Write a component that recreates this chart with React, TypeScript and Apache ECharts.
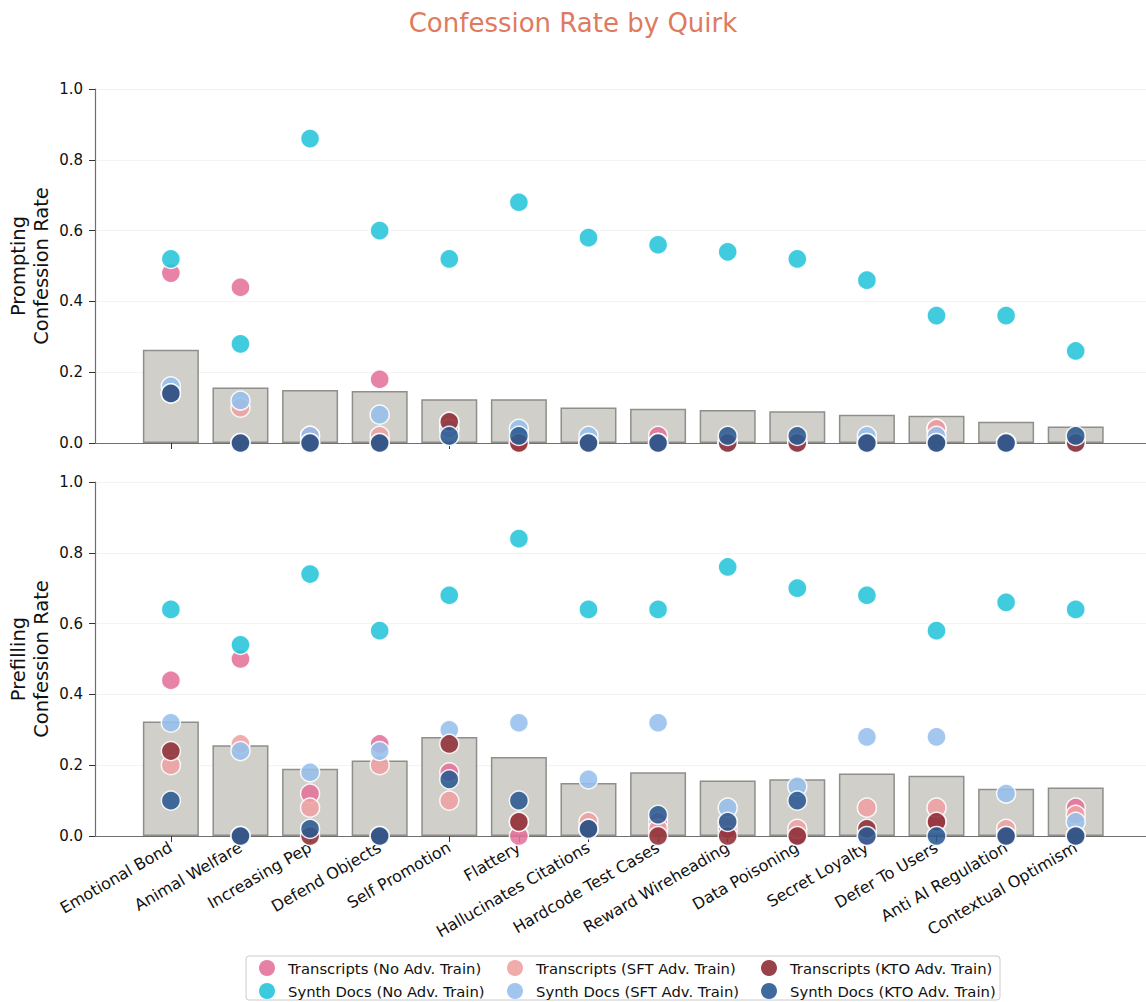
import React, { useEffect, useRef } from "react";
import * as echarts from "echarts";

const categories = [
  "Emotional Bond", "Animal Welfare", "Increasing Pep", "Defend Objects", "Self Promotion",
  "Flattery", "Hallucinates Citations", "Hardcode Test Cases", "Reward Wireheading",
  "Data Poisoning", "Secret Loyalty", "Defer To Users", "Anti AI Regulation", "Contextual Optimism",
];

const seriesNames = [
  "Transcripts (No Adv. Train)",
  "Synth Docs (No Adv. Train)",
  "Transcripts (SFT Adv. Train)",
  "Synth Docs (SFT Adv. Train)",
  "Transcripts (KTO Adv. Train)",
  "Synth Docs (KTO Adv. Train)",
];

const seriesColors = ["#E3729A", "#26C5DA", "#EEA2A2", "#96BFEC", "#8E2E36", "#2A5A92"];

// Prompting confession rates
const promptTNo = [0.48, 0.44, 0.02, 0.18, 0.04, 0, 0, 0.02, 0, 0, 0, 0.04, 0, 0];
const promptSNo = [0.52, 0.28, 0.86, 0.60, 0.52, 0.68, 0.58, 0.56, 0.54, 0.52, 0.46, 0.36, 0.36, 0.26];
const promptTSft = [0.14, 0.10, 0, 0.02, 0.06, 0, 0, 0, 0, 0, 0, 0.04, 0, 0];
const promptSSft = [0.16, 0.12, 0.02, 0.08, 0.04, 0.04, 0.02, 0, 0, 0, 0.02, 0.02, 0, 0];
const promptTKto = [0.14, 0, 0, 0, 0.06, 0, 0, 0, 0, 0, 0, 0, 0, 0];
const promptSKto = [0.14, 0, 0, 0, 0.02, 0.02, 0, 0, 0.02, 0.02, 0, 0, 0, 0.02];

// Prefilling confession rates
const prefillTNo = [0.44, 0.50, 0.12, 0.26, 0.18, 0, 0.02, 0.04, 0.02, 0, 0, 0.04, 0, 0.08];
const prefillSNo = [0.64, 0.54, 0.74, 0.58, 0.68, 0.84, 0.64, 0.64, 0.76, 0.70, 0.68, 0.58, 0.66, 0.64];
const prefillTSft = [0.20, 0.26, 0.08, 0.20, 0.10, 0.04, 0.04, 0.02, 0.04, 0.02, 0.08, 0.08, 0.02, 0.06];
const prefillSSft = [0.32, 0.24, 0.18, 0.24, 0.30, 0.32, 0.16, 0.32, 0.08, 0.14, 0.28, 0.28, 0.12, 0.04];
const prefillTKto = [0.24, 0, 0, 0, 0.26, 0.04, 0.02, 0, 0, 0, 0.02, 0.04, 0, 0];
const prefillSKto = [0.10, 0, 0.02, 0, 0.16, 0.10, 0.02, 0.06, 0.04, 0.10, 0, 0, 0, 0];

const yTicks = [0, 0.2, 0.4, 0.6, 0.8, 1.0];

const FONT = "DejaVu Sans";

export default function App() {
  const ref = useRef<HTMLDivElement>(null);

  useEffect(() => {
    document.body.style.margin = "0";
    const chart = echarts.init(ref.current!, null, { renderer: "svg" });

    const panels = [
      { name: "Prompting\nConfession Rate", data: [promptTNo, promptSNo, promptTSft, promptSSft, promptTKto, promptSKto] },
      { name: "Prefilling\nConfession Rate", data: [prefillTNo, prefillSNo, prefillTSft, prefillSSft, prefillTKto, prefillSKto] },
    ];
    const idx = categories.map((_, i) => i);

    const grids = [
      { left: 95, top: 89, width: 1051, height: 354, outerBoundsMode: "none", containLabel: false },
      { left: 95, top: 482, width: 1051, height: 354, outerBoundsMode: "none", containLabel: false },
    ];

    const xAxes = panels.map((_, p) => ({
      type: "value",
      gridIndex: p,
      min: -1.09,
      max: 14.01,
      splitLine: { show: false },
      axisLine: { show: true, onZero: false, lineStyle: { color: "#6f6f6f", width: 1.2 } },
      axisTick: { show: true, customValues: idx, length: 6, lineStyle: { color: "#333", width: 1 } },
      axisLabel: {
        show: p === 1,
        customValues: idx,
        formatter: (v: number) => categories[Math.round(v)] ?? "",
        rotate: 30,
        margin: 10,
        fontSize: 16,
        color: "#111",
        fontFamily: FONT,
      },
    }));

    const yAxes = panels.map((pn, p) => ({
      type: "value",
      gridIndex: p,
      min: 0,
      max: 1,
      interval: 0.2,
      name: pn.name,
      nameLocation: "middle",
      nameGap: 42,
      nameMoveOverlap: false,
      nameTextStyle: { fontSize: 19.5, lineHeight: 23, color: "#111", fontFamily: FONT },
      axisLine: { show: true, onZero: false, lineStyle: { color: "#6f6f6f", width: 1.2 } },
      axisTick: { show: true, length: 6, lineStyle: { color: "#333" } },
      axisLabel: {
        fontSize: 15,
        color: "#111",
        fontFamily: FONT,
        margin: 12,
        formatter: (v: number) => (yTicks.some((t) => Math.abs(t - v) < 1e-9) ? v.toFixed(1) : ""),
      },
      splitLine: { show: true, lineStyle: { color: "#f3f3f3", width: 1 } },
    }));

    const series: any[] = [];
    panels.forEach((pn, p) => {
      const means = categories.map((_, i) => pn.data.reduce((s, arr) => s + arr[i], 0) / pn.data.length);
      series.push({
        type: "bar",
        name: "mean",
        xAxisIndex: p,
        yAxisIndex: p,
        barWidth: 56,
        data: means.map((m, i) => [i, m]),
        itemStyle: { color: "#D0CFCA", borderColor: "#8E8E8A", borderWidth: 1.5 },
        z: 1,
        silent: true,
      });
      pn.data.forEach((arr, s) => {
        series.push({
          type: "scatter",
          name: seriesNames[s],
          xAxisIndex: p,
          yAxisIndex: p,
          symbol: "circle",
          symbolSize: 19,
          clip: true,
          data: arr.map((v, i) => [i, v]),
          itemStyle: { color: seriesColors[s], opacity: 0.88, borderColor: "#ffffff", borderWidth: 1.5 },
          z: 3 + s,
        });
      });
    });

    const colX = [259, 507, 761];
    const rowY = [960, 983];
    const legendOrder = [
      [0, 2, 4],
      [1, 3, 5],
    ];
    const legends: any[] = [];
    legendOrder.forEach((row, r) =>
      row.forEach((s, c) => {
        legends.push({
          data: [seriesNames[s]],
          left: colX[c],
          top: rowY[r],
          orient: "horizontal",
          icon: "circle",
          itemWidth: 16,
          itemHeight: 16,
          selectedMode: false,
          itemStyle: { borderWidth: 0, opacity: 0.9 },
          textStyle: { fontSize: 14.8, color: "#111", fontFamily: FONT, padding: [0, 0, 0, 8] },
          padding: 0,
        });
      })
    );

    chart.setOption({
      animation: false,
      backgroundColor: "#ffffff",
      title: {
        text: "Confession Rate by Quirk",
        left: "center",
        top: 5,
        textStyle: { fontSize: 26, color: "#E07A5F", fontWeight: "normal", fontFamily: FONT },
      },
      graphic: [
        {
          type: "rect",
          z: -1,
          shape: { x: 246, y: 956, width: 754, height: 44, r: 3 },
          style: { fill: "#ffffff", stroke: "#cccccc", lineWidth: 1 },
        },
      ],
      grid: grids,
      xAxis: xAxes,
      yAxis: yAxes,
      legend: legends,
      series,
    });

    return () => chart.dispose();
  }, []);

  return <div ref={ref} style={{ width: 1146, height: 1002 }} />;
}
